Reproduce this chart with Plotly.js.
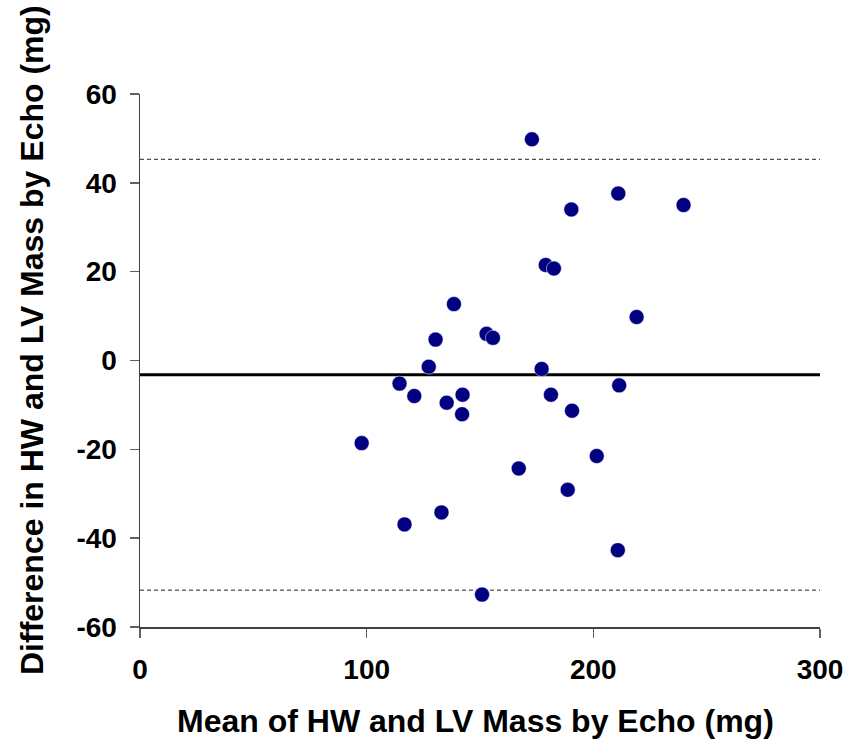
<!DOCTYPE html>
<html>
<head>
<meta charset="utf-8">
<script src="https://cdn.plot.ly/plotly-3.0.1.min.js"></script>
<style>html,body{margin:0;padding:0;background:#fff;}#chart{width:867px;height:747px;}</style>
</head>
<body>
<div id="chart"></div>
<script>
// Mean of HW and LV mass by echo (mg)
const meanMass = [172.9, 190.3, 211.0, 239.8, 179.0, 182.6, 138.5, 219.1, 130.4, 152.9,
                  155.7, 127.4, 177.2, 114.5, 121.0, 135.3, 142.3, 142.1, 181.3, 190.6,
                  211.4, 97.8, 167.1, 201.5, 188.7, 133.0, 116.7, 210.8, 150.9];
// Difference in HW and LV mass by echo (mg)
const diffMass = [49.8, 34.0, 37.6, 35.0, 21.5, 20.7, 12.7, 9.8, 4.7, 6.0,
                  5.1, -1.4, -1.9, -5.2, -8.0, -9.5, -7.7, -12.1, -7.7, -11.3,
                  -5.6, -18.6, -24.3, -21.5, -29.1, -34.2, -36.9, -42.7, -52.7];
const meanDiff = -3.2;
const upperLoA = 45.3;
const lowerLoA = -51.7;
const xTicks = [0, 100, 200, 300];
const yTicks = [-60, -40, -20, 0, 20, 40, 60];
const xRange = [0, 300];
const yRange = [-60, 60];
const xTitle = 'Mean of HW and LV Mass by Echo (mg)';
const yTitle = 'Difference in HW and LV Mass by Echo (mg)';

const font = 'Liberation Sans, Arial, sans-serif';

const trace = {
  x: meanMass, y: diffMass, type: 'scatter', mode: 'markers',
  marker: {color: '#000080', size: 15, line: {color: '#ffffff', width: 0.5}},
  hoverinfo: 'x+y', showlegend: false
};

function hline(y, dash, width, color) {
  return {type: 'line', xref: 'x', yref: 'y', x0: xRange[0], x1: xRange[1], y0: y, y1: y,
          layer: 'below', line: {color: color, width: width, dash: dash}};
}

const tickFont = {family: font, size: 28, color: '#000', weight: 'bold'};
const titleFont = {family: font, size: 32, color: '#000', weight: 'bold'};

const layout = {
  width: 867, height: 747,
  margin: {l: 140, r: 47, t: 94, b: 120},
  paper_bgcolor: '#ffffff', plot_bgcolor: '#ffffff',
  font: {family: font, color: '#000000'},
  xaxis: {
    range: xRange, tickvals: xTicks, ticktext: xTicks.map(String),
    showgrid: false, zeroline: false, showline: true, linecolor: '#404040', linewidth: 1.5,
    ticks: 'outside', ticklen: 9, tickwidth: 1.5, tickcolor: '#606060',
    tickfont: tickFont, ticklabelstandoff: 8
  },
  yaxis: {
    range: yRange, tickvals: yTicks, ticktext: yTicks.map(String),
    showgrid: false, zeroline: false, showline: true, linecolor: '#404040', linewidth: 1.5,
    ticks: 'outside', ticklen: 9, tickwidth: 1.5, tickcolor: '#606060',
    tickfont: tickFont, ticklabelstandoff: 7
  },
  shapes: [
    hline(meanDiff, 'solid', 3, '#000000'),
    hline(upperLoA, '4px,3px', 1, '#222222'),
    hline(lowerLoA, '4px,3px', 1, '#222222')
  ],
  annotations: [
    {text: xTitle, xref: 'paper', yref: 'paper', x: 0.4934, y: -0.1764,
     xanchor: 'center', yanchor: 'middle', showarrow: false, font: titleFont},
    {text: yTitle, xref: 'paper', yref: 'paper', x: -0.1588, y: 0.5385, textangle: -90,
     xanchor: 'center', yanchor: 'middle', showarrow: false, font: titleFont}
  ]
};

Plotly.newPlot('chart', [trace], layout, {displayModeBar: false, staticPlot: true});
</script>
</body>
</html>
